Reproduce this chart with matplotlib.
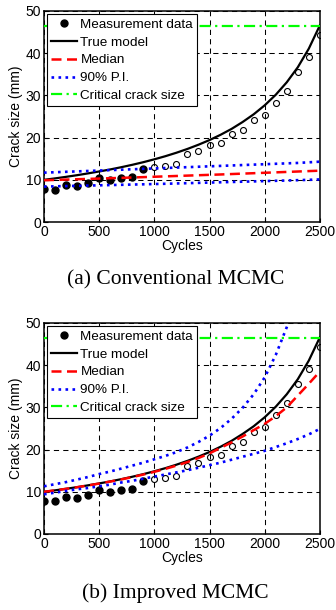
import matplotlib
matplotlib.use("Agg")
import matplotlib.pyplot as plt
import numpy as np

# Measurement data (mm): first 10 used for updating, rest for validation
meas_cycles = [0, 100, 200, 300, 400, 500, 600, 700, 800, 900,
               1000, 1100, 1200, 1300, 1400, 1500, 1600, 1700, 1800, 1900,
               2000, 2100, 2200, 2300, 2400, 2500]
meas_size = [7.9, 7.7, 8.85, 8.5, 9.25, 10.5, 10.0, 10.4, 10.75, 12.5,
             13.0, 13.2, 13.8, 16.2, 16.8, 18.3, 18.7, 20.9, 21.8, 24.1,
             25.3, 28.3, 31.1, 35.6, 39.0, 44.4]
n_used = 10

# Prediction grid (cycles)
cycles = [0, 100, 200, 300, 400, 500, 600, 700, 800, 900,
          1000, 1100, 1200, 1300, 1400, 1500, 1600, 1700, 1800, 1900,
          2000, 2100, 2200, 2300, 2400, 2500]

true_model = [10.0, 10.34, 10.71, 11.10, 11.53, 11.98, 12.46, 12.99, 13.56, 14.18,
              14.86, 15.60, 16.42, 17.32, 18.32, 19.42, 20.67, 22.07, 23.70, 25.52,
              27.65, 30.15, 33.11, 36.67, 41.09, 46.60]

# (a) conventional MCMC
conv_median = [9.9, 9.98, 10.06, 10.14, 10.22, 10.3, 10.38, 10.46, 10.55, 10.64,
               10.73, 10.82, 10.91, 11.0, 11.09, 11.18, 11.27, 11.37, 11.47, 11.57,
               11.67, 11.77, 11.87, 11.97, 12.07, 12.17]
conv_upper = [11.7, 11.8, 11.9, 12.0, 12.1, 12.2, 12.3, 12.4, 12.5, 12.6,
              12.7, 12.8, 12.9, 13.0, 13.1, 13.2, 13.3, 13.4, 13.5, 13.6,
              13.7, 13.8, 13.9, 14.0, 14.15, 14.3]
conv_lower = [8.4, 8.46, 8.52, 8.58, 8.64, 8.7, 8.76, 8.82, 8.88, 8.94,
              9.0, 9.07, 9.14, 9.21, 9.28, 9.35, 9.42, 9.49, 9.56, 9.63,
              9.7, 9.77, 9.84, 9.92, 10.0, 10.1]

# (b) improved MCMC
impr_median = [10.0, 10.33, 10.7, 11.08, 11.5, 11.95, 12.42, 12.93, 13.48, 14.08,
               14.73, 15.43, 16.2, 17.05, 18.0, 19.1, 20.4, 21.7, 23.1, 24.6,
               26.1, 27.9, 30.0, 32.8, 35.6, 38.5]
impr_upper = [11.3, 11.8, 12.3, 12.9, 13.5, 14.2, 14.8, 15.5, 16.2, 16.9,
              17.7, 18.5, 19.4, 20.5, 21.8, 23.3, 25.1, 27.3, 29.9, 33.1,
              37.1, 42.4, 49.0, 57.0, 66.0, 76.0]
impr_lower = [9.4, 9.8, 10.2, 10.6, 10.9, 11.3, 11.7, 12.2, 12.6, 13.1,
              13.6, 14.1, 14.6, 15.1, 15.7, 16.3, 16.9, 17.6, 18.3, 19.0,
              19.7, 20.6, 21.5, 22.5, 23.6, 24.9]

critical = 46.5

plt.rcParams['font.family'] = ['Liberation Sans', 'DejaVu Sans']

fig = plt.figure(figsize=(3.36, 6.10), dpi=100)
ax_a = fig.add_axes([0.131, 0.636, 0.821, 0.346])
ax_b = fig.add_axes([0.131, 0.1246, 0.821, 0.346])


def draw(ax, median, upper, lower):
    ax.plot(meas_cycles[:n_used], meas_size[:n_used], 'o', color='k', ms=5,
            label='Measurement data', zorder=3)
    ax.plot(meas_cycles[n_used:], meas_size[n_used:], 'o', mfc='none', mec='k',
            ms=4.3, mew=0.8, zorder=3)
    ax.plot(cycles, true_model, '-', color='k', lw=1.6, label='True model', zorder=4)
    ax.plot(cycles, median, '--', color='red', lw=1.8, dashes=(4, 2.2),
            label='Median', zorder=5)
    ax.plot(cycles, upper, ':', color='blue', lw=1.9, label='90% P.I.', zorder=5)
    ax.plot(cycles, lower, ':', color='blue', lw=1.9, zorder=5)
    ax.axhline(critical, color='#00ff00', lw=1.6, ls=(0, (5, 2, 1, 2)),
               label='Critical crack size', zorder=5)

    ax.set_xlim(0, 2500)
    ax.set_ylim(0, 50)
    ax.set_xticks([0, 500, 1000, 1500, 2000, 2500])
    ax.set_yticks([0, 10, 20, 30, 40, 50])
    ax.grid(True, color='k', lw=0.75, ls=(0, (5, 4)))
    ax.set_axisbelow(True)
    ax.tick_params(direction='in', length=3, labelsize=10, pad=2)
    for s in ax.spines.values():
        s.set_linewidth(1.1)
    ax.set_xlabel('Cycles', fontsize=10, labelpad=0)
    ax.set_ylabel('Crack size (mm)', fontsize=10, labelpad=2)

    leg = ax.legend(loc='upper left', fontsize=9.7, frameon=True, fancybox=False,
                    edgecolor='k', framealpha=1, borderaxespad=0.25,
                    handlelength=1.9, handletextpad=0.25, labelspacing=0.4,
                    borderpad=0.3)
    leg.get_frame().set_linewidth(0.8)
    leg.set_zorder(10)


draw(ax_a, conv_median, conv_upper, conv_lower)
draw(ax_b, impr_median, impr_upper, impr_lower)

fig.text(0.523, 0.541, '(a) Conventional MCMC', ha='center', va='center',
         fontsize=15.5, family='Liberation Serif')
fig.text(0.523, 0.028, '(b) Improved MCMC', ha='center', va='center',
         fontsize=15.5, family='Liberation Serif')

fig.savefig('out.png', dpi=100)
